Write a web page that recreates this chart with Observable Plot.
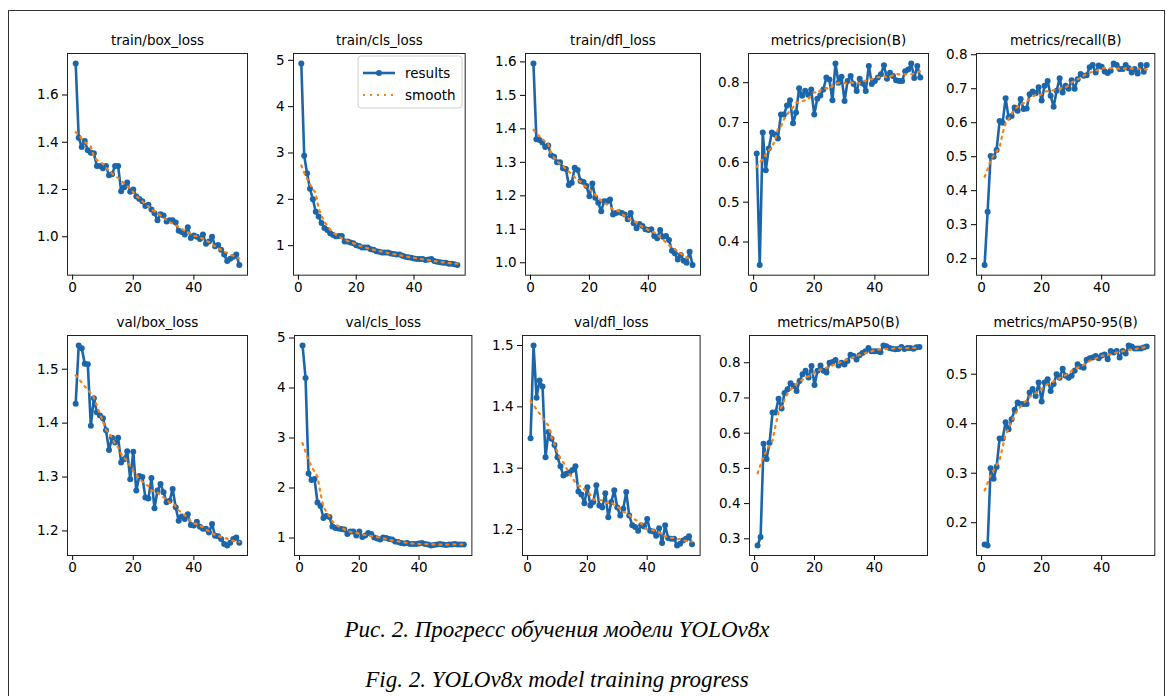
<!DOCTYPE html>
<html>
<head>
<meta charset="utf-8">
<script src="https://cdn.jsdelivr.net/npm/d3@7"></script>
<script src="https://cdn.jsdelivr.net/npm/@observablehq/plot@0.6"></script>
<style>
  html, body { margin: 0; padding: 0; background: #fff; }
  #root { position: relative; width: 1173px; height: 696px; overflow: hidden; background: #fff; }
  .panel { position: absolute; }
  .border { position: absolute; left: 8px; top: 10px; width: 1157px; height: 720px; border: 1px solid #333; box-sizing: border-box; }
  .caption { position: absolute; left: 257px; width: 600px; text-align: center; font-family: "Liberation Serif", "Times New Roman", serif; font-style: italic; font-size: 23px; color: #000; white-space: nowrap; }
</style>
</head>
<body>
<div id="root"><div class="border"></div></div>
<script>
// ---- data ----
const epochs = [1,2,3,4,5,6,7,8,9,10,11,12,13,14,15,16,17,18,19,20,21,22,23,24,25,26,27,28,29,30,31,32,33,34,35,36,37,38,39,40,41,42,43,44,45,46,47,48,49,50,51,52,53,54,55];

const trainBoxLoss = [1.733,1.419,1.380,1.405,1.366,1.356,1.353,1.300,1.300,1.290,1.300,1.260,1.265,1.300,1.300,1.193,1.210,1.230,1.190,1.200,1.170,1.160,1.150,1.130,1.135,1.115,1.100,1.070,1.095,1.090,1.065,1.070,1.070,1.060,1.025,1.020,1.010,1.040,0.995,1.005,1.000,0.990,1.010,0.970,0.980,1.000,0.960,0.965,0.945,0.925,0.897,0.907,0.915,0.925,0.880];
const trainClsLoss = [4.93,2.94,2.56,2.23,2.00,1.73,1.63,1.49,1.38,1.34,1.27,1.23,1.20,1.21,1.21,1.09,1.09,1.07,1.05,1.01,0.99,0.96,0.96,0.96,0.92,0.91,0.88,0.87,0.85,0.85,0.85,0.83,0.82,0.81,0.81,0.78,0.76,0.75,0.74,0.72,0.71,0.71,0.71,0.69,0.70,0.71,0.67,0.65,0.64,0.63,0.63,0.61,0.61,0.60,0.58];
const trainDflLoss = [1.595,1.369,1.367,1.359,1.346,1.350,1.321,1.317,1.300,1.300,1.282,1.280,1.232,1.239,1.284,1.277,1.244,1.241,1.229,1.199,1.237,1.194,1.179,1.154,1.184,1.184,1.189,1.144,1.149,1.151,1.149,1.144,1.130,1.149,1.118,1.103,1.116,1.110,1.100,1.098,1.100,1.080,1.073,1.098,1.078,1.080,1.068,1.036,1.028,1.010,1.023,1.006,1.000,1.033,0.993];
const precisionB = [0.622,0.342,0.675,0.580,0.635,0.675,0.670,0.660,0.720,0.720,0.743,0.756,0.698,0.725,0.786,0.767,0.780,0.770,0.783,0.720,0.760,0.768,0.783,0.813,0.808,0.756,0.848,0.800,0.815,0.754,0.804,0.817,0.797,0.779,0.810,0.798,0.779,0.842,0.797,0.804,0.813,0.821,0.844,0.810,0.825,0.817,0.806,0.804,0.804,0.829,0.833,0.848,0.812,0.842,0.813];
const recallB = [0.181,0.338,0.502,0.500,0.520,0.605,0.600,0.672,0.615,0.620,0.645,0.635,0.670,0.640,0.642,0.684,0.692,0.687,0.704,0.665,0.709,0.723,0.679,0.647,0.694,0.731,0.689,0.709,0.700,0.725,0.700,0.728,0.743,0.738,0.740,0.763,0.770,0.748,0.768,0.765,0.751,0.746,0.753,0.774,0.770,0.758,0.758,0.770,0.760,0.748,0.758,0.745,0.770,0.750,0.770];
const valBoxLoss = [1.436,1.544,1.539,1.510,1.509,1.395,1.446,1.420,1.414,1.409,1.387,1.350,1.373,1.364,1.373,1.327,1.333,1.348,1.296,1.347,1.275,1.302,1.300,1.262,1.260,1.298,1.242,1.275,1.287,1.272,1.253,1.256,1.278,1.244,1.219,1.227,1.222,1.231,1.211,1.210,1.217,1.208,1.204,1.204,1.197,1.213,1.191,1.190,1.185,1.176,1.173,1.178,1.185,1.188,1.178];
const valClsLoss = [4.85,4.20,2.29,2.16,2.18,1.71,1.64,1.40,1.44,1.42,1.23,1.20,1.19,1.18,1.17,1.08,1.13,1.13,1.05,1.13,1.02,1.05,1.10,1.08,1.01,0.99,0.97,1.01,1.00,0.98,0.97,0.93,0.92,0.90,0.89,0.90,0.88,0.88,0.88,0.89,0.90,0.88,0.87,0.85,0.86,0.87,0.88,0.87,0.86,0.87,0.87,0.88,0.87,0.87,0.87];
const valDflLoss = [1.349,1.500,1.415,1.443,1.433,1.318,1.359,1.348,1.338,1.318,1.303,1.288,1.291,1.293,1.297,1.303,1.262,1.257,1.243,1.269,1.239,1.245,1.272,1.239,1.236,1.259,1.220,1.245,1.264,1.236,1.223,1.234,1.261,1.223,1.207,1.204,1.198,1.207,1.205,1.217,1.198,1.197,1.190,1.202,1.178,1.207,1.186,1.185,1.185,1.174,1.177,1.182,1.185,1.189,1.176];
const mAP50B = [0.281,0.305,0.570,0.527,0.573,0.659,0.659,0.698,0.670,0.714,0.725,0.742,0.734,0.720,0.748,0.767,0.777,0.758,0.791,0.737,0.777,0.792,0.777,0.772,0.800,0.802,0.808,0.792,0.800,0.795,0.805,0.823,0.819,0.809,0.821,0.828,0.833,0.842,0.833,0.833,0.833,0.830,0.849,0.847,0.842,0.840,0.838,0.839,0.845,0.839,0.842,0.842,0.840,0.844,0.845];
const mAP5095B = [0.156,0.154,0.310,0.289,0.313,0.370,0.370,0.403,0.389,0.409,0.428,0.443,0.440,0.440,0.440,0.463,0.470,0.456,0.483,0.445,0.483,0.490,0.466,0.480,0.500,0.493,0.511,0.497,0.493,0.497,0.507,0.520,0.515,0.513,0.529,0.532,0.534,0.537,0.532,0.538,0.540,0.530,0.547,0.544,0.547,0.534,0.547,0.542,0.558,0.556,0.552,0.552,0.552,0.554,0.556];

const titles = ["train/box_loss","train/cls_loss","train/dfl_loss","metrics/precision(B)","metrics/recall(B)",
                "val/box_loss","val/cls_loss","val/dfl_loss","metrics/mAP50(B)","metrics/mAP50-95(B)"];
const xTicks = [0, 20, 40];
const yTicks = [
  [1.0,1.2,1.4,1.6], [1,2,3,4,5], [1.0,1.1,1.2,1.3,1.4,1.5,1.6], [0.4,0.5,0.6,0.7,0.8], [0.2,0.3,0.4,0.5,0.6,0.7,0.8],
  [1.2,1.3,1.4,1.5], [1,2,3,4,5], [1.2,1.3,1.4,1.5], [0.3,0.4,0.5,0.6,0.7,0.8], [0.2,0.3,0.4,0.5]
];
const series = [trainBoxLoss, trainClsLoss, trainDflLoss, precisionB, recallB, valBoxLoss, valClsLoss, valDflLoss, mAP50B, mAP5095B];
const legendLabels = ["results", "smooth"];
const captionLines = ["Рис. 2. Прогресс обучения модели YOLOv8x", "Fig. 2. YOLOv8x model training progress"];

// ---- layout & style ----
const frames = [
  [66.7,53.3,246.7,275], [293.3,53.3,465,275], [525,53.3,700,275], [748.3,53.3,928.3,275], [975.7,53.3,1154,275],
  [66.7,335,246.7,555], [294.3,335,471.7,555], [521.7,335,699.3,555], [749.3,335,927.3,555], [975.7,335,1154,555]
];
const BLUE = "#1b66aa";
const ORANGE = "#ff7f0e";
const DASH = "2,5";
const ML = 50, MR = 6, MT = 32, MB = 28;
const root = document.getElementById("root");

function padded(ext) { const p = (ext[1] - ext[0]) * 0.05; return [ext[0] - p, ext[1] + p]; }

series.forEach((vals, i) => {
  const [l, t, r, b] = frames[i];
  const data = vals.map((v, j) => ({epoch: epochs[j], v}));
  const intTicks = yTicks[i].every(Number.isInteger) && yTicks[i][yTicks[i].length-1] > 2;
  const chart = Plot.plot({
    width: (r - l) + ML + MR,
    height: (b - t) + MT + MB,
    marginLeft: ML, marginRight: MR, marginTop: MT, marginBottom: MB,
    style: {fontFamily: "DejaVu Sans, sans-serif", fontSize: "13.5px", color: "#000", background: "transparent", overflow: "visible"},
    x: {domain: padded(d3.extent(epochs)), ticks: xTicks, tickSize: 5, tickPadding: 2, label: null, tickFormat: d => String(d)},
    y: {domain: padded(d3.extent(vals)), ticks: yTicks[i], tickSize: 5, tickPadding: 4, label: null,
        tickFormat: intTicks ? (d => String(d)) : d3.format(".1f")},
    marks: [
      Plot.line(data, {x: "epoch", y: "v", stroke: BLUE, strokeWidth: 2.6}),
      Plot.dot(data, {x: "epoch", y: "v", r: 3, fill: BLUE, stroke: "none"}),
      Plot.line(data, Plot.windowY({k: 11, anchor: "middle", reduce: "mean"}, {x: "epoch", y: "v", stroke: ORANGE, strokeWidth: 2.2, strokeDasharray: DASH})),
      Plot.frame({stroke: "#222", strokeWidth: 1}),
      Plot.text([titles[i]], {frameAnchor: "top", lineAnchor: "middle", dy: -13, fontSize: 13.5, fill: "#000"})
    ]
  });
  chart.classList.add("panel");
  chart.style.left = (l - ML) + "px";
  chart.style.top = (t - MT) + "px";
  root.appendChild(chart);
});

// legend in train/cls_loss panel
(function () {
  const lx = 358, ly = 56, lw = 104, lh = 52;
  const svg = d3.create("svg").attr("class", "panel").attr("width", lw + 2).attr("height", lh + 2)
    .style("left", (lx - 1) + "px").style("top", (ly - 1) + "px");
  svg.append("rect").attr("x", 1).attr("y", 1).attr("width", lw).attr("height", lh).attr("rx", 3)
    .attr("fill", "rgba(255,255,255,0.85)").attr("stroke", "#d0d0d0");
  const g1 = svg.append("g").attr("transform", "translate(1,1)");
  g1.append("line").attr("x1", 5).attr("x2", 37).attr("y1", 17).attr("y2", 17).attr("stroke", BLUE).attr("stroke-width", 2.6);
  g1.append("circle").attr("cx", 21).attr("cy", 17).attr("r", 3).attr("fill", BLUE);
  g1.append("line").attr("x1", 5).attr("x2", 37).attr("y1", 39).attr("y2", 39).attr("stroke", ORANGE).attr("stroke-width", 2.2).attr("stroke-dasharray", DASH);
  g1.selectAll("text").data(legendLabels).join("text")
    .attr("x", 47).attr("y", (d, k) => 17 + k * 22).attr("dy", "0.35em")
    .attr("font-family", "DejaVu Sans, sans-serif").attr("font-size", 13.5).attr("fill", "#000").text(d => d);
  root.appendChild(svg.node());
})();

// caption
captionLines.forEach((txt, k) => {
  const div = document.createElement("div");
  div.className = "caption";
  div.style.top = (617 + k * 50) + "px";
  div.textContent = txt;
  root.appendChild(div);
});
</script>
</body>
</html>
